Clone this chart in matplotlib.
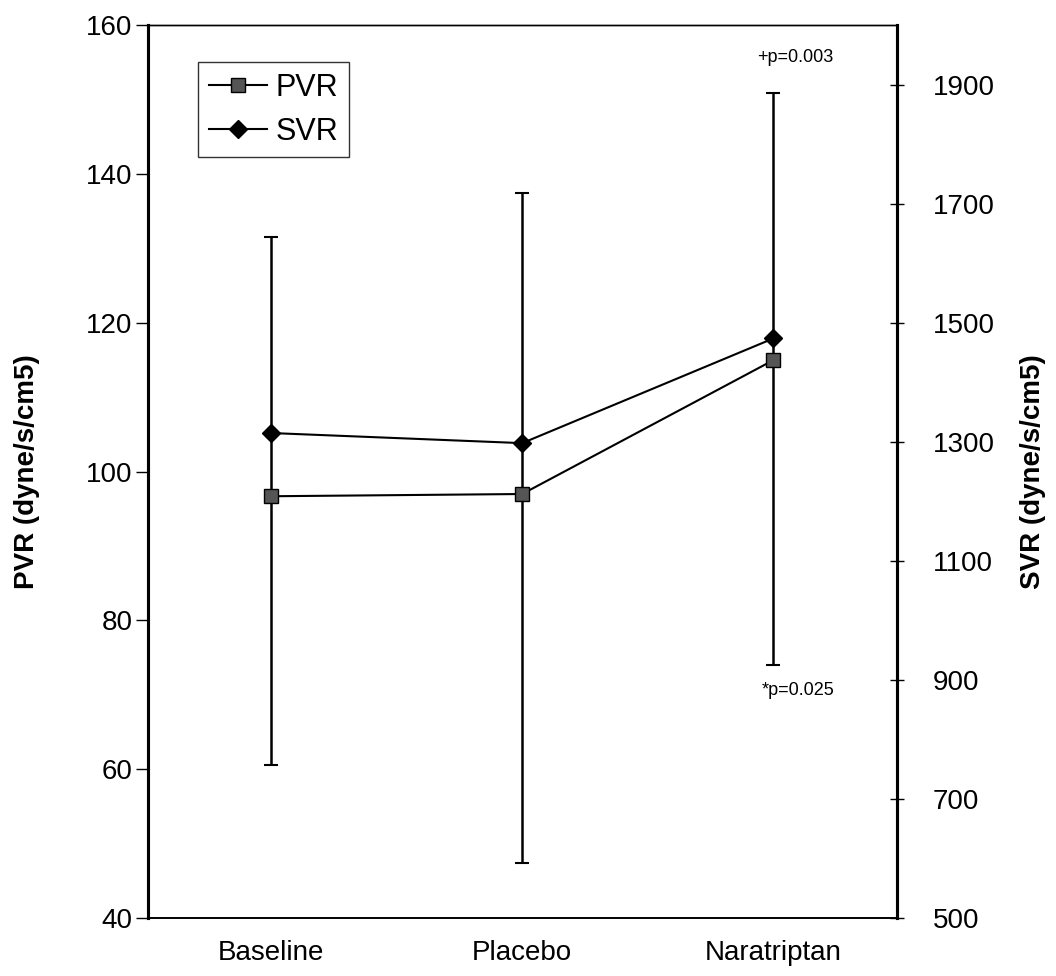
import matplotlib
matplotlib.use("Agg")
import matplotlib.pyplot as plt
import numpy as np

plt.rcParams['font.family'] = ['Liberation Sans', 'DejaVu Sans']

groups = ['Baseline', 'Placebo', 'Naratriptan']
pvr = [96.7, 97.0, 115.0]
svr = [1315, 1298, 1474]
pvr_low = [60.6, 47.4, 74.0]
pvr_high = [131.5, 137.4, 150.9]

x = np.arange(len(groups))

fig = plt.figure(figsize=(10.56, 9.76), dpi=100)
ax = fig.add_axes([0.140, 0.0594, 0.709, 0.9146])
ax2 = ax.twinx()

yerr = [np.array(pvr) - np.array(pvr_low), np.array(pvr_high) - np.array(pvr)]
ax.errorbar(x, pvr, yerr=yerr, fmt='none', ecolor='black', elinewidth=1.8,
            capsize=5, capthick=1.5, zorder=2)
l1, = ax.plot(x, pvr, color='black', lw=1.5, marker='s', markersize=10,
              markerfacecolor='#555555', markeredgecolor='black', zorder=3)
l2, = ax2.plot(x, svr, color='black', lw=1.5, marker='D', markersize=9,
               markerfacecolor='black', markeredgecolor='black', zorder=3)

ax.set_xlim(-0.49, 2.49)
ax.set_ylim(40, 160)
ax.set_yticks(np.arange(40, 161, 20))
ax2.set_ylim(500, 2000)
ax2.set_yticks(np.arange(500, 2000, 200))

ax.set_xticks(x)
ax.set_xticklabels(groups)
ax.tick_params(axis='x', length=0, labelsize=20, pad=16)
ax.tick_params(axis='y', direction='out', length=9, width=1, labelsize=20, pad=2)
ax2.tick_params(axis='y', direction='inout', length=10, width=1, labelsize=20, pad=21)

ax.set_ylabel('PVR (dyne/s/cm5)', fontsize=20, fontweight='bold', labelpad=33)
ax2.set_ylabel('SVR (dyne/s/cm5)', fontsize=20, fontweight='bold', labelpad=18)

for a in (ax, ax2):
    a.spines['left'].set_linewidth(2.2)
    a.spines['right'].set_linewidth(2.2)
    a.spines['top'].set_linewidth(1.0)
    a.spines['bottom'].set_linewidth(1.2)

ax.text(2.085, 155.7, '+p=0.003', fontsize=13, ha='center', va='center')
ax.text(2.10, 70.6, '*p=0.025', fontsize=13, ha='center', va='center')

leg = ax.legend([l1, l2], ['PVR', 'SVR'], loc='upper left',
                bbox_to_anchor=(0.067, 0.9586), borderaxespad=0, fontsize=22,
                frameon=True, fancybox=False, edgecolor='black', handlelength=1.9,
                handletextpad=0.3, borderpad=0.35, labelspacing=0.45)
leg.get_frame().set_linewidth(1.0)

fig.savefig('out.png', dpi=100)
